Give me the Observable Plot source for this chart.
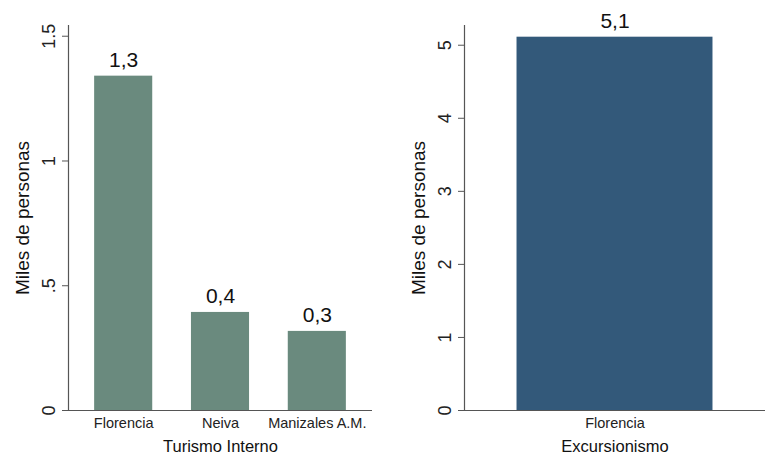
<!DOCTYPE html>
<html>
<head>
<meta charset="utf-8">
<script src="https://cdn.jsdelivr.net/npm/d3@7"></script>
<script src="https://cdn.jsdelivr.net/npm/@observablehq/plot@0.6"></script>
<style>
  html, body { margin: 0; padding: 0; background: #fff; }
  #wrap { display: flex; width: 765px; height: 454px; font-family: "Liberation Sans", Arial, sans-serif; }
  svg { background: #fff; }
</style>
</head>
<body>
<div id="wrap"></div>
<script>
// Data
const interCategories = ["Florencia", "Neiva", "Manizales A.M."];
const interValues = [1.34, 0.393, 0.317];
const interTicks = [0, 0.5, 1, 1.5];
const interTickLabels = ["0", ".5", "1", "1.5"];

const excCategories = ["Florencia"];
const excValues = [5.11];
const excTicks = [0, 1, 2, 3, 4, 5];
const excTickLabels = ["0", "1", "2", "3", "4", "5"];

const yLabel = "Miles de personas";
const interTitle = "Turismo Interno";
const excTitle = "Excursionismo";

const fmt = d3.formatLocale({decimal: ",", thousands: ".", grouping: [3], currency: ["", ""]}).format(".1f");
const font = "Liberation Sans, Arial, sans-serif";

function panel({cats, vals, ticks, tickLabels, title, color, width, marginLeft, marginRight, yMax, paddingInner, paddingOuter}) {
  const data = cats.map((c, i) => ({cat: c, val: vals[i]}));
  return Plot.plot({
    width, height: 454,
    marginLeft, marginRight, marginTop: 25, marginBottom: 44,
    style: {fontFamily: font, background: "#fff", color: "#222"},
    x: {domain: cats, paddingInner, paddingOuter, round: false},
    y: {domain: [0, yMax]},
    marks: [
      Plot.barY(data, {x: "cat", y: "val", fill: color}),
      Plot.ruleY([0], {stroke: "#555", strokeWidth: 1.2, insetLeft: -6}),
      Plot.frame({anchor: "left", stroke: "#555", strokeWidth: 1.2}),
      Plot.axisY({ticks, tickFormat: d => tickLabels[ticks.indexOf(d)], tickRotate: -90, tickSize: 6, tickPadding: 8, fontSize: 18, label: null, stroke: "#555"}),
      Plot.axisX({tickSize: 0, tickPadding: 7, fontSize: 14.5, label: null}),
      Plot.text(data, {x: "cat", y: "val", text: d => fmt(d.val), dy: -9, lineAnchor: "bottom", fontSize: 21, fill: "#111"}),
      Plot.text([yLabel], {frameAnchor: "left", textAnchor: "middle", rotate: -90, dx: -46, fontSize: 19, fill: "#111"}),
      Plot.text([title], {frameAnchor: "bottom", dy: 41, fontSize: 16.5, fill: "#111"})
    ]
  });
}

const wrap = document.getElementById("wrap");
wrap.appendChild(panel({
  cats: interCategories, vals: interValues, ticks: interTicks, tickLabels: interTickLabels,
  title: interTitle, color: "#6a8a7e", width: 385, marginLeft: 68, marginRight: 13,
  yMax: 1.543, paddingInner: 0.4, paddingOuter: 0.27
}));
wrap.appendChild(panel({
  cats: excCategories, vals: excValues, ticks: excTicks, tickLabels: excTickLabels,
  title: excTitle, color: "#33597a", width: 380, marginLeft: 79, marginRight: 0,
  yMax: 5.27, paddingInner: 0, paddingOuter: 0.268
}));
</script>
</body>
</html>
